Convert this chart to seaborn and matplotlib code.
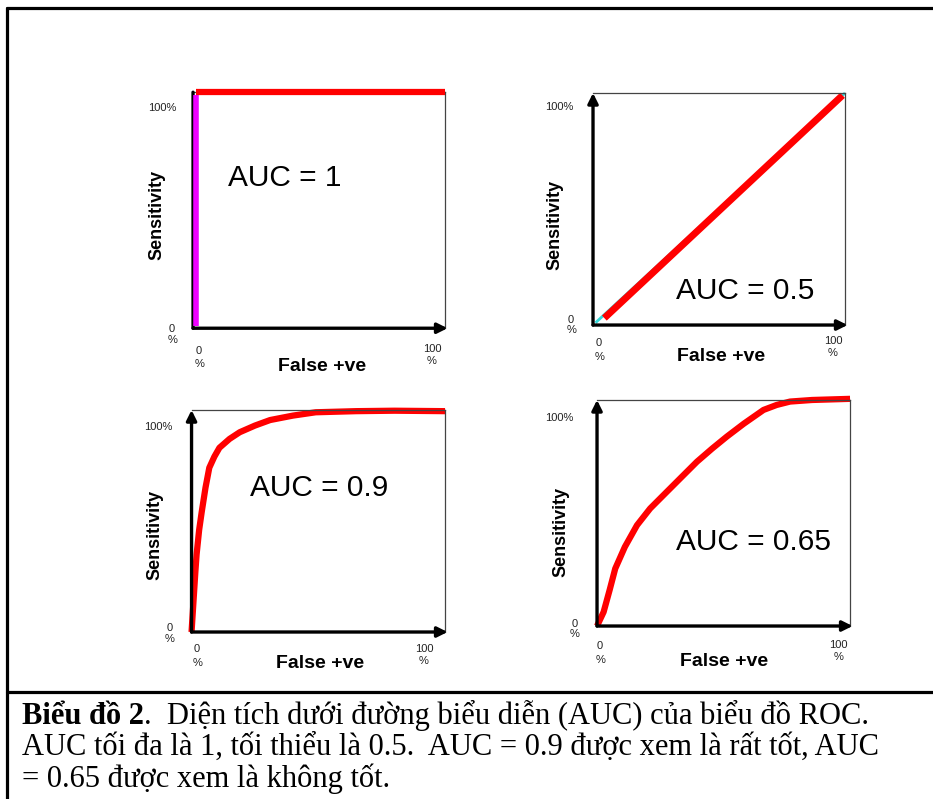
"""
ROC / AUC illustration - four small panels with a Vietnamese caption underneath.
"""

import pandas as pd
import matplotlib.pyplot as plt
import seaborn as sns
from matplotlib.lines import Line2D

# ===============================
# Data (fractions of the axes, 0..1)
# ===============================
auc_labels = ["AUC = 1", "AUC = 0.5", "AUC = 0.9", "AUC = 0.65"]

# panel 1: perfect test
p1_top_x = [0.01, 1.0]
p1_top_y = [1.0, 1.0]
p1_left_x = [0.01, 0.01]
p1_left_y = [0.01, 0.99]

# panel 2: diagonal (cyan guide + red line)
p2_diag_x = [0.01, 1.0]
p2_diag_y = [0.01, 1.0]
p2_red_x = [0.045, 0.99]
p2_red_y = [0.03, 0.99]

# panel 3: AUC 0.9
p3_x = [0.0, 0.005, 0.01, 0.015, 0.02, 0.03, 0.04, 0.055, 0.07, 0.09, 0.11,
        0.15, 0.19, 0.25, 0.31, 0.40, 0.49, 0.65, 0.80, 1.0]
p3_y = [0.0, 0.09, 0.18, 0.27, 0.35, 0.46, 0.54, 0.65, 0.74, 0.79, 0.83,
        0.87, 0.90, 0.93, 0.955, 0.975, 0.99, 0.995, 0.997, 0.995]

# panel 4: AUC 0.65
p4_x = [0.0, 0.026, 0.05, 0.072, 0.11, 0.158, 0.21, 0.276, 0.335, 0.395,
        0.455, 0.513, 0.58, 0.658, 0.71, 0.763, 0.85, 1.0]
p4_y = [0.0, 0.062, 0.16, 0.254, 0.35, 0.446, 0.52, 0.594, 0.66, 0.727,
        0.785, 0.838, 0.895, 0.956, 0.978, 0.993, 1.0, 1.005]

caption_bold = "Biểu đồ 2"
caption_lines = [
    ".  Diện tích dưới đường biểu diễn (AUC) của biểu đồ ROC.",
    "AUC tối đa là 1, tối thiểu là 0.5.  AUC = 0.9 được xem là rất tốt, AUC",
    "= 0.65 được xem là không tốt.",
]

# ===============================
# Style
# ===============================
sns.set_theme(style="white")
plt.rcParams["font.family"] = ["Liberation Sans", "DejaVu Sans"]

RED = "#ff0000"
MAGENTA = "#ee00ff"
CYAN = "#33d8d8"

fig = plt.figure(figsize=(9.33, 7.99), dpi=100)

# axes boxes (left, bottom, width, height) in figure fractions
boxes = [
    (0.2069, 0.5892, 0.2701, 0.2954),
    (0.6356, 0.5932, 0.2701, 0.2904),
    (0.2053, 0.2090, 0.2717, 0.2778),
    (0.6399, 0.2165, 0.2712, 0.2829),
]

# text placements per panel, axes fractions
text_pos = [
    dict(y100=(-0.067, 0.932), y0=(-0.083, -0.025), x0=(0.024, -0.123),
         x100=(0.948, -0.114), xlab=(0.512, -0.161), ylab=(-0.143, 0.479),
         auc=(0.139, 0.636)),
    dict(y100=(-0.079, 0.94), y0=(-0.087, 0.0), x0=(0.024, -0.108),
         x100=(0.952, -0.095), xlab=(0.508, -0.134), ylab=(-0.151, 0.431),
         auc=(0.329, 0.147)),
    dict(y100=(-0.077, 0.923), y0=(-0.085, -0.005), x0=(0.022, -0.108),
         x100=(0.917, -0.104), xlab=(0.507, -0.144), ylab=(-0.144, 0.437),
         auc=(0.231, 0.649)),
    dict(y100=(-0.095, 0.920), y0=(-0.087, -0.013), x0=(0.012, -0.119),
         x100=(0.953, -0.111), xlab=(0.502, -0.155), ylab=(-0.142, 0.416),
         auc=(0.312, 0.372)),
]

y_arrow = [False, True, True, True]

axes = [fig.add_axes(b) for b in boxes]


def frame_axes(ax, arrow_up):
    ax.set_xlim(0, 1)
    ax.set_ylim(0, 1)
    ax.set_xticks([])
    ax.set_yticks([])
    ax.set_xlabel("")
    ax.set_ylabel("")
    for side in ["top", "right"]:
        ax.spines[side].set_color("#444444")
        ax.spines[side].set_linewidth(0.9)
    for side in ["left", "bottom"]:
        ax.spines[side].set_visible(False)
    # thick black axes with arrow heads
    ax.annotate("", xy=(1.01, 0), xytext=(0, 0), xycoords="axes fraction",
                arrowprops=dict(arrowstyle="-|>,head_length=0.5,head_width=0.25",
                                color="black", lw=2.4, shrinkA=0, shrinkB=0),
                annotation_clip=False)
    style = "-|>,head_length=0.5,head_width=0.25" if arrow_up else "-"
    ax.annotate("", xy=(0, 1.0), xytext=(0, 0), xycoords="axes fraction",
                arrowprops=dict(arrowstyle=style, color="black", lw=2.4,
                                shrinkA=0, shrinkB=0),
                annotation_clip=False)


def panel_text(ax, pos, auc):
    t = ax.transAxes
    ax.text(*pos["y100"], "100%", transform=t, ha="right", va="center",
            fontsize=8, color="#222222")
    ax.text(*pos["y0"], "0\n%", transform=t, ha="center", va="center",
            fontsize=8, color="#222222", linespacing=1.1)
    ax.text(*pos["x0"], "0\n%", transform=t, ha="center", va="center",
            fontsize=8, color="#222222", linespacing=1.4)
    ax.text(*pos["x100"], "100\n%", transform=t, ha="center", va="center",
            fontsize=8, color="#222222", linespacing=1.3)
    ax.text(*pos["xlab"], "False +ve", transform=t, ha="center", va="center",
            fontsize=14, fontweight="bold", color="black")
    ax.text(*pos["ylab"], "Sensitivity", transform=t, ha="center", va="center",
            fontsize=13, fontweight="bold", color="black", rotation=90)
    ax.text(*pos["auc"], auc, transform=t, ha="left", va="center",
            fontsize=21.5, color="black")


# ===============================
# Panel 1: AUC = 1
# ===============================
ax = axes[0]
sns.lineplot(data=pd.DataFrame({"x": p1_left_x, "y": p1_left_y}), x="x", y="y",
             ax=ax, color=MAGENTA, lw=4, estimator=None, sort=False, zorder=4)
sns.lineplot(data=pd.DataFrame({"x": p1_top_x, "y": p1_top_y}), x="x", y="y",
             ax=ax, color=RED, lw=4.5, estimator=None, sort=False, zorder=5)

# ===============================
# Panel 2: AUC = 0.5
# ===============================
ax = axes[1]
sns.lineplot(data=pd.DataFrame({"x": p2_diag_x, "y": p2_diag_y}), x="x", y="y",
             ax=ax, color=CYAN, lw=2, estimator=None, sort=False)
sns.lineplot(data=pd.DataFrame({"x": p2_red_x, "y": p2_red_y}), x="x", y="y",
             ax=ax, color=RED, lw=5, estimator=None, sort=False)

# ===============================
# Panels 3 and 4: curves
# ===============================
sns.lineplot(data=pd.DataFrame({"x": p3_x, "y": p3_y}), x="x", y="y",
             ax=axes[2], color=RED, lw=4.5, estimator=None, sort=False)
sns.lineplot(data=pd.DataFrame({"x": p4_x, "y": p4_y}), x="x", y="y",
             ax=axes[3], color=RED, lw=4.5, estimator=None, sort=False)

for i, ax in enumerate(axes):
    for line in ax.get_lines():
        line.set_clip_on(False)
        line.set_solid_capstyle("butt")
        line.set_solid_joinstyle("round")
    frame_axes(ax, y_arrow[i])
    panel_text(ax, text_pos[i], auc_labels[i])

# ===============================
# Outer frame and caption
# ===============================
W, H = 933, 799
frame_kw = dict(color="black", lw=2.3, transform=fig.transFigure)
fig.add_artist(Line2D([6.5 / W, 6.5 / W], [0, 1 - 8 / H], **frame_kw))
fig.add_artist(Line2D([6.5 / W, 1], [1 - 8 / H, 1 - 8 / H], **frame_kw))
fig.add_artist(Line2D([6.5 / W, 1], [1 - 691.5 / H, 1 - 691.5 / H], **frame_kw))

serif = ["Liberation Serif", "DejaVu Serif"]
cap_size = 22
x0 = 22 / W
baselines = [724, 755, 787]

renderer = fig.canvas.get_renderer()
bold = fig.text(x0, 1 - baselines[0] / H, caption_bold, family=serif,
                fontsize=cap_size, fontweight="bold", ha="left", va="baseline",
                color="black")
bb = bold.get_window_extent(renderer=renderer)
fig.text(bb.x1 / W, 1 - baselines[0] / H, caption_lines[0], family=serif,
         fontsize=cap_size, ha="left", va="baseline", color="black")
for line, base in zip(caption_lines[1:], baselines[1:]):
    fig.text(x0, 1 - base / H, line, family=serif, fontsize=cap_size,
             ha="left", va="baseline", color="black")

fig.savefig("out.png", dpi=100, facecolor="white")
plt.close(fig)
